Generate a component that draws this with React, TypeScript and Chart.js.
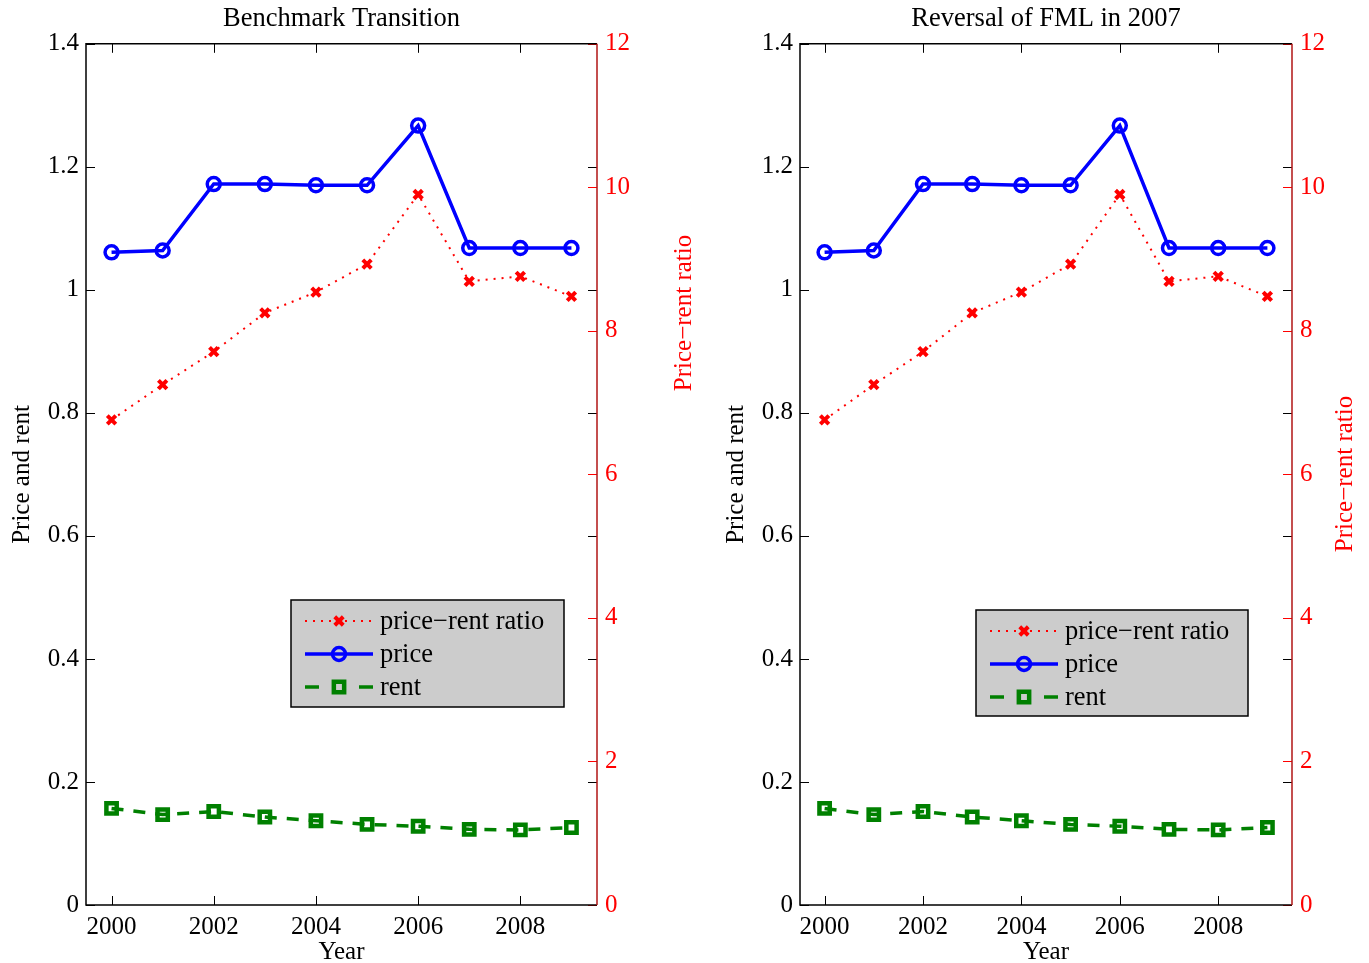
import React, { useEffect, useRef } from "react";
import { Chart, registerables } from "chart.js";

Chart.register(...registerables);

// ---------- data ----------
const years = [2000, 2001, 2002, 2003, 2004, 2005, 2006, 2007, 2008, 2009];
const priceRentRatio = [6.76, 7.25, 7.71, 8.25, 8.54, 8.93, 9.9, 8.69, 8.76, 8.48];
const price = [1.061, 1.064, 1.172, 1.172, 1.17, 1.17, 1.267, 1.068, 1.068, 1.068];
const rent = [0.157, 0.147, 0.152, 0.143, 0.137, 0.131, 0.128, 0.123, 0.122, 0.126];

const xTickValues = [2000, 2002, 2004, 2006, 2008];
const leftTickValues = [0, 0.2, 0.4, 0.6, 0.8, 1, 1.2, 1.4];
const rightTickValues = [0, 2, 4, 6, 8, 10, 12];

const seriesLabels = ["price\u2212rent ratio", "price", "rent"];
const panelTitles = ["Benchmark Transition", "Reversal of FML in 2007"];
const xAxisTitle = "Year";
const leftAxisTitle = "Price and rent";
const rightAxisTitle = "Price\u2212rent ratio";

// ---------- styling ----------
const FONT_FAMILY = "'Liberation Serif', 'Times New Roman', serif";
const FONT_SIZE = 25;
const LEGEND_FONT_SIZE = 26.5;
const font = { family: FONT_FAMILY, size: FONT_SIZE, weight: "normal" as const };
const TICK_LEN = 9;

function drawMarker(ctx: CanvasRenderingContext2D, style: string, x: number, y: number, r: number, color: string, bw: number) {
  ctx.save();
  ctx.setLineDash([]);
  ctx.strokeStyle = color;
  ctx.lineWidth = bw;
  ctx.beginPath();
  if (style === "circle") {
    ctx.arc(x, y, r, 0, Math.PI * 2);
  } else if (style === "crossRot") {
    const d = r * Math.SQRT1_2;
    ctx.moveTo(x - d, y - d);
    ctx.lineTo(x + d, y + d);
    ctx.moveTo(x - d, y + d);
    ctx.lineTo(x + d, y - d);
  } else if (style === "rect") {
    const s = r * Math.SQRT1_2;
    ctx.rect(x - s, y - s, 2 * s, 2 * s);
  }
  ctx.stroke();
  ctx.restore();
}

const frameTicksPlugin = {
  id: "frameTicks",
  afterDatasetsDraw(chart: any) {
    const { ctx, chartArea, scales } = chart;
    const { left, right, top, bottom } = chartArea;
    ctx.save();
    ctx.setLineDash([]);
    ctx.lineWidth = 1;
    ctx.strokeStyle = "#000";
    ctx.beginPath();
    xTickValues.forEach((v) => {
      const x = Math.round(scales.x.getPixelForValue(v)) + 0.5;
      ctx.moveTo(x, bottom);
      ctx.lineTo(x, bottom - TICK_LEN);
      ctx.moveTo(x, top);
      ctx.lineTo(x, top + TICK_LEN);
    });
    leftTickValues.forEach((v) => {
      const y = Math.round(scales.y.getPixelForValue(v)) + 0.5;
      ctx.moveTo(left, y);
      ctx.lineTo(left + TICK_LEN, y);
      ctx.moveTo(right, y);
      ctx.lineTo(right - TICK_LEN, y);
    });
    ctx.stroke();
    ctx.strokeStyle = "#ff0000";
    ctx.beginPath();
    rightTickValues.forEach((v) => {
      const y = Math.round(scales.y2.getPixelForValue(v)) + 0.5;
      ctx.moveTo(right, y);
      ctx.lineTo(right - TICK_LEN, y);
    });
    ctx.stroke();
    // frame
    ctx.lineWidth = 1.5;
    ctx.strokeStyle = "#000";
    ctx.beginPath();
    ctx.moveTo(right, top);
    ctx.lineTo(left, top);
    ctx.lineTo(left, bottom);
    ctx.lineTo(right, bottom);
    ctx.stroke();
    ctx.strokeStyle = "#b01414";
    ctx.beginPath();
    ctx.moveTo(right, top);
    ctx.lineTo(right, bottom);
    ctx.stroke();
    ctx.restore();
  },
};

const sideTitlePlugin = {
  id: "sideTitle",
  afterDraw(chart: any, _args: any, opts: any) {
    const { ctx } = chart;
    ctx.save();
    ctx.translate(opts.x, opts.y);
    ctx.rotate(-Math.PI / 2);
    ctx.textAlign = "center";
    ctx.textBaseline = "middle";
    ctx.fillStyle = opts.color;
    ctx.font = `${FONT_SIZE}px ${FONT_FAMILY}`;
    ctx.fillText(opts.text, 0, 0);
    ctx.restore();
  },
};

const boxLegendPlugin = {
  id: "boxLegend",
  afterDraw(chart: any, _args: any, opts: any) {
    const { ctx } = chart;
    const { left, top, width, height } = opts;
    ctx.save();
    ctx.fillStyle = "#cccccc";
    ctx.fillRect(left, top, width, height);
    ctx.strokeStyle = "#000";
    ctx.lineWidth = 1.5;
    ctx.setLineDash([]);
    ctx.strokeRect(left, top, width, height);
    chart.data.datasets.forEach((ds: any, i: number) => {
      const cy = top + 21 + i * 33;
      const x0 = left + 14;
      const x1 = left + 82;
      const mx = left + 48;
      ctx.save();
      ctx.strokeStyle = ds.borderColor;
      ctx.lineWidth = ds.borderWidth;
      ctx.setLineDash(ds.legendDash || ds.borderDash || []);
      ctx.beginPath();
      ctx.moveTo(x0, cy);
      ctx.lineTo(x1, cy);
      ctx.stroke();
      ctx.restore();
      drawMarker(ctx, ds.pointStyle, mx, cy, ds.pointRadius, ds.pointBorderColor, ds.pointBorderWidth);
      ctx.fillStyle = "#000";
      ctx.font = `${LEGEND_FONT_SIZE}px ${FONT_FAMILY}`;
      ctx.textAlign = "left";
      ctx.textBaseline = "middle";
      ctx.fillText(ds.label, left + 89, cy + 1);
    });
    ctx.restore();
  },
};

type PanelProps = {
  title: string;
  width: number;
  leftAxisWidth: number;
  rightAxisWidth: number;
  leftTitlePad: number;
  sideTitle: { x: number; y: number };
  legendBox: { left: number; top: number; width: number; height: number };
};

function Panel(props: PanelProps) {
  const ref = useRef<HTMLCanvasElement | null>(null);
  useEffect(() => {
    if (!ref.current) return;
    const fmt = (v: any) => String(Math.round(Number(v) * 10) / 10);
    const chart = new Chart(ref.current, {
      type: "line",
      data: {
        datasets: [
          {
            label: seriesLabels[0],
            data: years.map((y, i) => ({ x: y, y: priceRentRatio[i] })),
            yAxisID: "y2",
            borderColor: "#ff0000",
            borderWidth: 2,
            borderDash: [2, 6],
            pointStyle: "crossRot",
            pointRadius: 6,
            pointBorderWidth: 4,
            pointBorderColor: "#ff0000",
            pointBackgroundColor: "rgba(0,0,0,0)",
            fill: false,
            tension: 0,
          } as any,
          {
            label: seriesLabels[1],
            data: years.map((y, i) => ({ x: y, y: price[i] })),
            yAxisID: "y",
            borderColor: "#0000ff",
            borderWidth: 3.5,
            pointStyle: "circle",
            pointRadius: 6.5,
            pointBorderWidth: 3.5,
            pointBorderColor: "#0000ff",
            pointBackgroundColor: "rgba(0,0,0,0)",
            fill: false,
            tension: 0,
          } as any,
          {
            label: seriesLabels[2],
            data: years.map((y, i) => ({ x: y, y: rent[i] })),
            yAxisID: "y",
            borderColor: "#008000",
            borderWidth: 3.5,
            borderDash: [12, 10],
            legendDash: [14, 40],
            pointStyle: "rect",
            pointRadius: 7.3,
            pointBorderWidth: 4.5,
            pointBorderColor: "#008000",
            pointBackgroundColor: "rgba(0,0,0,0)",
            fill: false,
            tension: 0,
          } as any,
        ],
      },
      options: {
        animation: false,
        responsive: false,
        maintainAspectRatio: false,
        layout: { padding: 0 },
        scales: {
          x: {
            type: "linear",
            min: 1999.5,
            max: 2009.5,
            afterBuildTicks: (s: any) => {
              s.ticks = xTickValues.map((v) => ({ value: v }));
            },
            afterFit: (s: any) => {
              s.height = 58;
            },
            grid: { display: false, drawTicks: false },
            border: { display: false },
            ticks: {
              font,
              color: "#000",
              padding: 7,
              maxRotation: 0,
              autoSkip: false,
              callback: (v: any) => String(v),
            },
            title: { display: true, text: xAxisTitle, font, color: "#000", padding: { top: 0, bottom: -4 } },
          },
          y: {
            type: "linear",
            position: "left",
            min: 0,
            max: 1.4,
            afterBuildTicks: (s: any) => {
              s.ticks = leftTickValues.map((v) => ({ value: v }));
            },
            afterFit: (s: any) => {
              s.width = props.leftAxisWidth;
            },
            grid: { display: false, drawTicks: false },
            border: { display: false },
            ticks: { font, color: "#000", padding: 7, callback: fmt },
            title: {
              display: true,
              text: leftAxisTitle,
              font,
              color: "#000",
              padding: { top: props.leftTitlePad, bottom: 0 },
            },
          },
          y2: {
            type: "linear",
            position: "right",
            min: 0,
            max: 12,
            afterBuildTicks: (s: any) => {
              s.ticks = rightTickValues.map((v) => ({ value: v }));
            },
            afterFit: (s: any) => {
              s.width = props.rightAxisWidth;
            },
            grid: { display: false, drawTicks: false },
            border: { display: false },
            ticks: { font, color: "#ff0000", padding: 8, callback: (v: any) => String(v) },
          },
        },
        plugins: {
          legend: { display: false },
          tooltip: { enabled: false },
          title: {
            display: true,
            text: props.title,
            font: { family: FONT_FAMILY, size: 26.5, weight: "normal" },
            color: "#000",
            fullSize: false,
            padding: { top: 3, bottom: 9 },
          },
          sideTitle: { text: rightAxisTitle, color: "#ff0000", x: props.sideTitle.x, y: props.sideTitle.y },
          boxLegend: props.legendBox,
        } as any,
      },
      plugins: [frameTicksPlugin, sideTitlePlugin, boxLegendPlugin],
    });
    return () => chart.destroy();
  }, []);
  return <canvas ref={ref} width={props.width} height={963} style={{ width: props.width, height: 963, display: "block" }} />;
}

export default function App() {
  return (
    <div style={{ position: "fixed", left: 0, top: 0, width: 1369, height: 963, background: "#fff" }}>
      <div style={{ position: "absolute", left: 0, top: 0 }}>
        <Panel
          title={panelTitles[0]}
          width={700}
          leftAxisWidth={86}
          rightAxisWidth={103}
          leftTitlePad={7}
          sideTitle={{ x: 684, y: 313 }}
          legendBox={{ left: 291, top: 600, width: 273, height: 107 }}
        />
      </div>
      <div style={{ position: "absolute", left: 700, top: 0 }}>
        <Panel
          title={panelTitles[1]}
          width={669}
          leftAxisWidth={100}
          rightAxisWidth={77}
          leftTitlePad={21}
          sideTitle={{ x: 645, y: 474 }}
          legendBox={{ left: 276, top: 610, width: 272, height: 106 }}
        />
      </div>
    </div>
  );
}
